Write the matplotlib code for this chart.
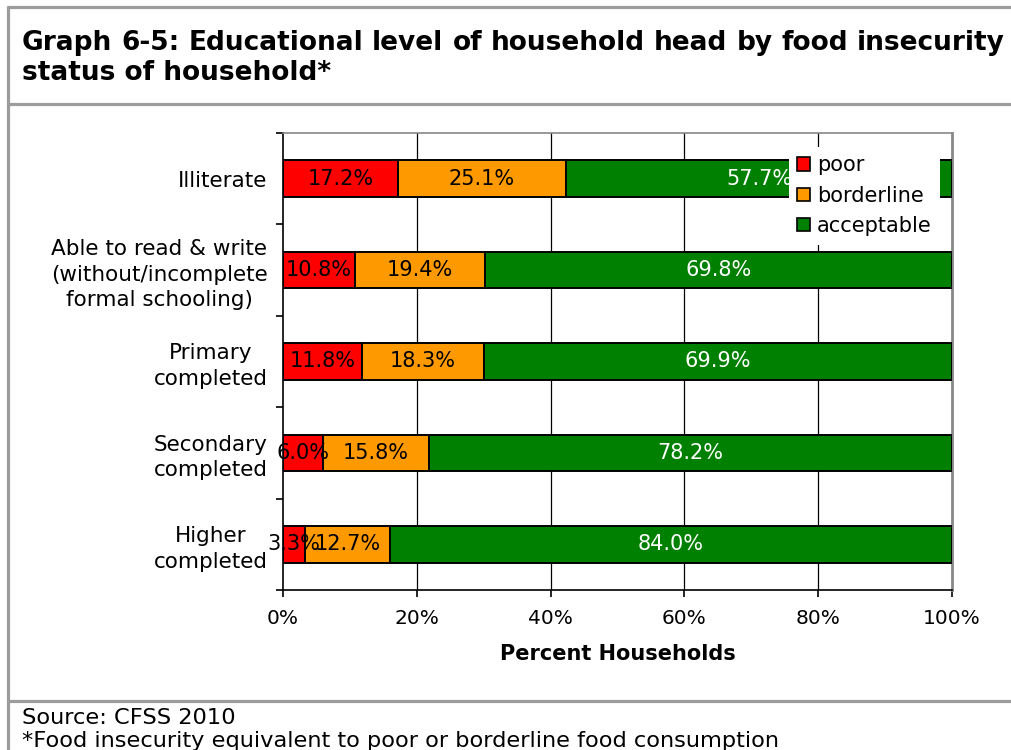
import matplotlib
matplotlib.use("Agg")
import matplotlib.pyplot as plt
from matplotlib.lines import Line2D
from matplotlib.patches import Patch
import numpy as np

categories = [
    "Illiterate",
    "Able to read & write\n(without/incomplete\nformal schooling)",
    "Primary\ncompleted",
    "Secondary\ncompleted",
    "Higher\ncompleted",
]
series_names = ["poor", "borderline", "acceptable"]
poor = [17.2, 10.8, 11.8, 6.0, 3.3]
borderline = [25.1, 19.4, 18.3, 15.8, 12.7]
acceptable = [57.7, 69.8, 69.9, 78.2, 84.0]
x_ticks = [0, 20, 40, 60, 80, 100]
x_tick_labels = ["0%", "20%", "40%", "60%", "80%", "100%"]

title_line1 = "Graph 6-5: Educational level of household head by food insecurity"
title_line2 = "status of household*"
footer_lines = ["Source: CFSS 2010",
                "*Food insecurity equivalent to poor or borderline food consumption"]

colors = ["#FF0000", "#FF9900", "#008000"]
label_colors = ["black", "black", "white"]
frame_gray = "#9c9c9c"

W, H = 1011, 750
fig = plt.figure(figsize=(W / 100, H / 100), dpi=100)
fig.patch.set_facecolor("white")


def fx(px):
    return px / W


def fy(py):
    return 1 - py / H


# outer frame lines of the exhibit box
for (x0, y0, x1, y1) in [(7, 7, W, 7), (8, 6, 8, H), (8, 103.5, W, 103.5), (8, 700.5, W, 700.5)]:
    fig.add_artist(Line2D([fx(x0), fx(x1)], [fy(y0), fy(y1)], color=frame_gray,
                          lw=2.3, transform=fig.transFigure, solid_capstyle="butt"))

ax = fig.add_axes([fx(283), fy(590), fx(952) - fx(283), fy(133) - fy(590)])

y = np.arange(len(categories))
series = [poor, borderline, acceptable]
left = np.zeros(len(categories))
for vals, name, col, tcol in zip(series, series_names, colors, label_colors):
    vals = np.array(vals)
    ax.barh(y, vals, left=left, height=0.4, color=col, edgecolor="black",
            linewidth=1.4, label=name, zorder=3)
    for yi, l, v in zip(y, left, vals):
        ax.text(l + v / 2, yi, f"{v:.1f}%", ha="center", va="center",
                fontsize=15, color=tcol, zorder=4)
    left = left + vals

ax.set_xlim(0, 100)
ax.set_ylim(len(categories) - 0.5, -0.5)

# vertical gridlines
for xv in x_ticks[1:-1]:
    ax.axvline(xv, color="black", lw=0.9, zorder=1)

ax.spines["left"].set_color("black")
ax.spines["bottom"].set_color("black")
ax.spines["left"].set_linewidth(1.2)
ax.spines["bottom"].set_linewidth(1.2)
ax.spines["top"].set_color("#888888")
ax.spines["right"].set_color("#888888")
ax.spines["top"].set_linewidth(1.2)
ax.spines["right"].set_linewidth(2.0)

ax.set_xticks(x_ticks)
ax.set_xticklabels(x_tick_labels, fontsize=14.5)
ax.tick_params(axis="x", direction="out", length=5, width=1.2, pad=9)

ax.set_yticks(np.arange(-0.5, len(categories), 1.0))
ax.set_yticklabels([])
ax.tick_params(axis="y", which="major", direction="out", length=5, width=1.2)
ax.set_yticks(y, minor=True)
ax.set_yticklabels(categories, minor=True, fontsize=15.5, multialignment="center",
                   linespacing=1.35)
ax.tick_params(axis="y", which="minor", length=0, pad=11)

ax.set_xlabel("Percent Households", fontsize=15, fontweight="bold", labelpad=11)

handles = [Patch(facecolor=c, edgecolor="black", linewidth=1.2) for c in colors]
leg = ax.legend(handles, series_names, loc="upper left",
                bbox_to_anchor=(fx(789), fy(147)), bbox_transform=fig.transFigure,
                borderaxespad=0, borderpad=0.4, fontsize=15, frameon=True,
                fancybox=False, framealpha=1, facecolor="white", edgecolor="none",
                handlelength=0.6, handleheight=0.6, handletextpad=0.35,
                labelspacing=0.5)
leg.set_zorder(5)

# title, first line justified across the box width
fig.canvas.draw()
renderer = fig.canvas.get_renderer()
words = title_line1.split(" ")
title_kw = dict(fontsize=19, fontweight="bold", va="baseline", ha="left")
texts = [fig.text(0, fy(50), w, **title_kw) for w in words]
widths = [t.get_window_extent(renderer).width for t in texts]
x_start, x_end = 22, 1005
gap = (x_end - x_start - sum(widths)) / (len(words) - 1)
xpos = x_start
for t, w in zip(texts, widths):
    t.set_x(fx(xpos))
    xpos += w + gap
fig.text(fx(22), fy(80), title_line2, **title_kw)

fig.text(fx(22), fy(724), footer_lines[0], fontsize=16.2, va="baseline", ha="left")
fig.text(fx(22), fy(747), footer_lines[1], fontsize=16.2, va="baseline", ha="left")

fig.savefig("out.png", dpi=100)
